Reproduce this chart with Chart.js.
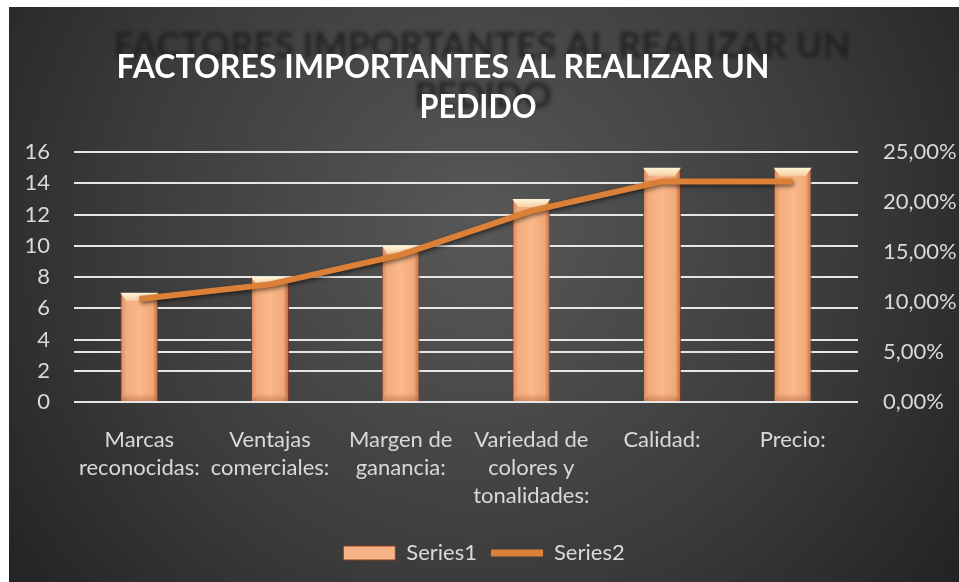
<!DOCTYPE html>
<html>
<head>
<meta charset="utf-8">
<script src="https://cdn.jsdelivr.net/npm/chart.js@4.4.1/dist/chart.umd.min.js"></script>
<style>
  html, body { margin: 0; padding: 0; background: #fff; }
  #wrap { position: relative; width: 959px; height: 582px; }
</style>
</head>
<body>
<div id="wrap"><canvas id="chart"></canvas></div>
<script>
// datos del gráfico
const categories = [
  ['Marcas', 'reconocidas:'],
  ['Ventajas', 'comerciales:'],
  ['Margen de', 'ganancia:'],
  ['Variedad de', 'colores y', 'tonalidades:'],
  ['Calidad:'],
  ['Precio:']
];
const series1 = [7, 8, 10, 13, 15, 15];
const series2 = [10.29, 11.76, 14.71, 19.12, 22.06, 22.06]; // %
const titleLines = ['FACTORES IMPORTANTES AL REALIZAR UN', 'PEDIDO'];
const leftMax = 16, leftStep = 2;
const rightMax = 25, rightStep = 5;

const TXT = '#d9d9d9';
const LINE = '#DD8037';
const BAR_PCT = 0.29;
const FONT = 'Lato';

function barFill(c) {
  const chart = c.chart;
  const xs = chart.scales.x;
  if (!chart.chartArea || !xs || c.type !== 'data') return '#F4B183';
  const cx = xs.getPixelForValue(c.dataIndex);
  const w = xs.width / categories.length * BAR_PCT;
  const g = chart.ctx.createLinearGradient(cx - w / 2, 0, cx + w / 2, 0);
  g.addColorStop(0, '#D48A60');
  g.addColorStop(0.15, '#F3AB7B');
  g.addColorStop(0.5, '#FBB98B');
  g.addColorStop(0.85, '#F1A878');
  g.addColorStop(1, '#B9673F');
  return g;
}

const bgPlugin = {
  id: 'bg',
  beforeDraw(chart) {
    const ctx = chart.ctx;
    ctx.save();
    ctx.fillStyle = '#ffffff';
    ctx.fillRect(0, 0, chart.width, chart.height);
    const g = ctx.createRadialGradient(480, 230, 10, 480, 230, 620);
    g.addColorStop(0, '#575757');
    g.addColorStop(0.55, '#3c3c3c');
    g.addColorStop(1, '#202020');
    ctx.fillStyle = g;
    ctx.fillRect(9, 7, chart.width - 9, chart.height - 7);

    // reflejo/sombra del título
    ctx.filter = 'blur(2px)';
    ctx.fillStyle = 'rgba(28,28,28,0.8)';
    ctx.textAlign = 'center';
    ctx.textBaseline = 'alphabetic';
    ctx.font = 'bold 36px ' + FONT;
    let m = ctx.measureText(titleLines[0]).width;
    ctx.save();
    ctx.translate(482, 58);
    ctx.scale(737 / m, 1);
    ctx.fillText(titleLines[0], 0, 0);
    ctx.restore();
    ctx.fillText(titleLines[1], 483, 108);
    ctx.filter = 'none';

    // título
    ctx.fillStyle = '#ffffff';
    ctx.font = 'bold 33px ' + FONT;
    m = ctx.measureText(titleLines[0]).width;
    ctx.save();
    ctx.translate(443, 78);
    ctx.scale(653 / m, 1);
    ctx.fillText(titleLines[0], 0, 0);
    ctx.restore();
    ctx.save();
    ctx.translate(478, 118);
    ctx.scale(0.93, 1);
    ctx.fillText(titleLines[1], 0, 0);
    ctx.restore();
    ctx.restore();
  }
};

const barFx = {
  id: 'barFx',
  beforeDatasetDraw(chart, args) {
    if (args.index === 1) {
      const ctx = chart.ctx;
      ctx.save();
      ctx.shadowColor = 'rgba(0,0,0,0.55)';
      ctx.shadowBlur = 4;
      ctx.shadowOffsetX = 1;
      ctx.shadowOffsetY = 2;
    }
  },
  afterDatasetDraw(chart, args) {
    const ctx = chart.ctx;
    if (args.index === 1) { ctx.restore(); return; }
    if (args.index !== 0) return;
    args.meta.data.forEach(el => {
      const l = el.x - el.width / 2, r = el.x + el.width / 2;
      const t = el.y, b = el.base, d = 8;
      ctx.save();
      let g = ctx.createLinearGradient(0, t, 0, t + d);
      g.addColorStop(0, '#FFF6DA');
      g.addColorStop(1, '#F7D2A6');
      ctx.fillStyle = g;
      ctx.beginPath();
      ctx.moveTo(l, t); ctx.lineTo(r, t); ctx.lineTo(r - 6, t + d); ctx.lineTo(l + 6, t + d);
      ctx.closePath(); ctx.fill();
      g = ctx.createLinearGradient(0, b - d, 0, b);
      g.addColorStop(0, 'rgba(170,90,55,0)');
      g.addColorStop(1, 'rgba(170,90,55,0.45)');
      ctx.fillStyle = g;
      ctx.beginPath();
      ctx.moveTo(l + 6, b - d); ctx.lineTo(r - 6, b - d); ctx.lineTo(r, b); ctx.lineTo(l, b);
      ctx.closePath(); ctx.fill();
      ctx.restore();
    });
  }
};

const ctx = document.getElementById('chart').getContext('2d');
new Chart(ctx, {
  data: {
    labels: categories,
    datasets: [{
      type: 'bar',
      label: 'Series1',
      data: series1,
      yAxisID: 'y',
      order: 2,
      backgroundColor: barFill,
      borderColor: 'rgba(130,55,30,0.9)',
      borderWidth: 1,
      barPercentage: BAR_PCT,
      categoryPercentage: 1,
      pointStyle: 'rect'
    }, {
      type: 'line',
      label: 'Series2',
      data: series2,
      yAxisID: 'y1',
      order: 1,
      borderColor: LINE,
      backgroundColor: LINE,
      borderWidth: 6,
      pointRadius: 0,
      tension: 0,
      pointStyle: 'line'
    }]
  },
  options: {
    responsive: true,
    maintainAspectRatio: false,
    animation: false,
    layout: { padding: { left: 9, top: 152, right: 0, bottom: 8 } },
    plugins: {
      title: { display: false },
      tooltip: { enabled: false },
      legend: {
        position: 'bottom',
        labels: {
          color: TXT,
          font: { family: FONT, size: 22 },
          usePointStyle: true,
          pointStyleWidth: 52,
          boxHeight: 14,
          padding: 14,
          generateLabels(chart) {
            const items = Chart.defaults.plugins.legend.labels.generateLabels(chart);
            items.sort((a, b) => a.datasetIndex - b.datasetIndex);
            items.forEach(it => {
              if (it.datasetIndex === 0) {
                it.fillStyle = '#F6B486';
                it.strokeStyle = '#8A3F22';
                it.lineWidth = 1;
              } else {
                it.strokeStyle = LINE;
                it.lineWidth = 7;
              }
            });
            return items;
          }
        }
      }
    },
    scales: {
      x: {
        grid: { display: false, drawTicks: false },
        border: { display: false },
        ticks: {
          color: TXT,
          font: { family: FONT, size: 22, lineHeight: 1.27 },
          padding: 24,
          maxRotation: 0,
          autoSkip: false
        },
        afterFit(s) { s.height = 126; }
      },
      y: {
        position: 'left',
        min: 0, max: leftMax,
        grid: { color: '#e6e6e6', lineWidth: 2, drawTicks: false },
        border: { display: false },
        ticks: {
          stepSize: leftStep,
          color: TXT,
          font: { family: FONT, size: 22 },
          padding: 24
        },
        afterFit(s) { s.width = 65; }
      },
      y1: {
        position: 'right',
        min: 0, max: rightMax,
        grid: {
          drawTicks: false,
          lineWidth: 2,
          color: c => (c.tick && c.tick.value === 5) ? '#e6e6e6' : 'rgba(0,0,0,0)'
        },
        border: { display: false },
        ticks: {
          stepSize: rightStep,
          color: TXT,
          font: { family: FONT, size: 22 },
          padding: 25,
          callback: v => v.toFixed(2).replace('.', ',') + '%'
        },
        afterFit(s) { s.width = 101; }
      }
    }
  },
  plugins: [bgPlugin, barFx]
});
</script>
</body>
</html>
